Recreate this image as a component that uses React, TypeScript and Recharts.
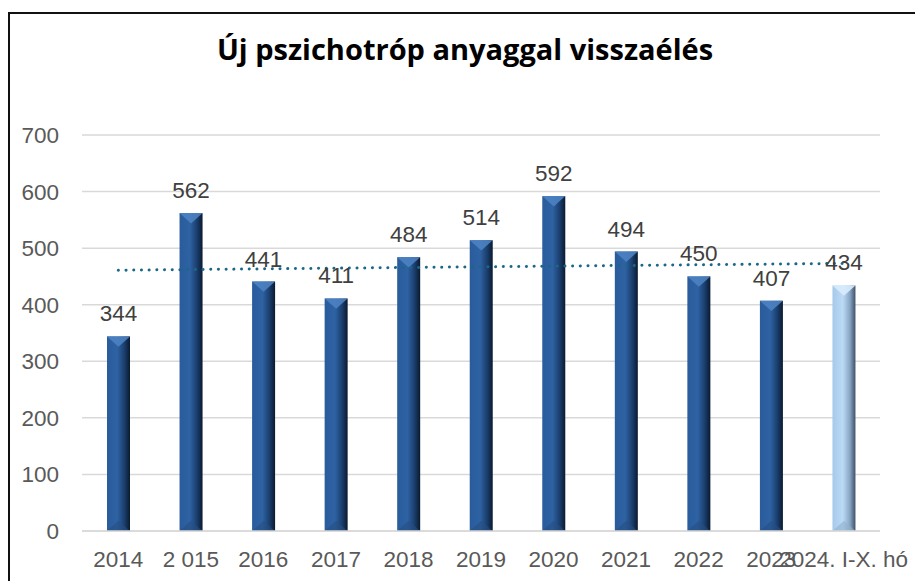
import React from "react";
import {
  ComposedChart,
  Bar,
  Line,
  XAxis,
  YAxis,
  CartesianGrid,
  LabelList,
} from "recharts";

const categories = ["2014", "2 015", "2016", "2017", "2018", "2019", "2020", "2021", "2022", "2023", "2024. I-X. hó"];
const values = [344, 562, 441, 411, 484, 514, 592, 494, 450, 407, 434];
// linear trend line: start and end values
const trendValues = [461, null, null, null, null, null, null, null, null, null, 473];
const yTicks = [0, 100, 200, 300, 400, 500, 600, 700];

const data = categories.map((c, i) => ({ name: c, value: values[i], trend: trendValues[i] }));

const FONT = "'Liberation Sans', Arial, sans-serif";

const BarShape = (props: any) => {
  const { x, y, width, height, index } = props;
  if (height <= 0) return null;
  const light = index === values.length - 1;
  const fill = light ? "url(#gradLight)" : "url(#gradDark)";
  const bevel = Math.min(width * 0.45, height / 2);
  const topFill = light ? "#D8ECFB" : "#4C82C2";
  const botFill = light ? "#8FB0CF" : "#264E82";
  return (
    <g>
      <rect x={x} y={y} width={width} height={height} fill={fill} />
      <polygon
        points={`${x},${y} ${x + width},${y} ${x + width / 2},${y + bevel}`}
        fill={topFill}
        opacity={0.9}
      />
      <polygon
        points={`${x},${y + height} ${x + width},${y + height} ${x + width / 2},${y + height - bevel}`}
        fill={botFill}
        opacity={0.6}
      />
    </g>
  );
};

export default function App() {
  return (
    <div style={{ position: "absolute", left: 0, top: 0, width: 915, height: 581, background: "#fff", overflow: "hidden" }}>
      <div
        style={{
          position: "absolute",
          left: 8,
          top: 12,
          width: 915,
          height: 581,
          borderLeft: "2px solid #111",
          borderTop: "2px solid #111",
        }}
      />
      <div
        style={{
          position: "absolute",
          left: 0,
          width: 915,
          top: 29,
          textAlign: "center",
          paddingLeft: 15,
          boxSizing: "border-box",
          fontFamily: "'Open Sans', sans-serif",
          fontWeight: 700,
          fontSize: 29,
          color: "#000",
          whiteSpace: "nowrap",
        }}
      >
        Új pszichotróp anyaggal visszaélés
      </div>
      <div style={{ position: "absolute", left: 0, top: 0 }}>
        <ComposedChart
          width={915}
          height={581}
          data={data}
          margin={{ top: 135, right: 35, bottom: 0, left: 0 }}
          barCategoryGap={0}
        >
          <defs>
            <linearGradient id="gradDark" x1="0" y1="0" x2="1" y2="0">
              <stop offset="0%" stopColor="#2A5C9C" />
              <stop offset="45%" stopColor="#2E62A3" />
              <stop offset="75%" stopColor="#1B3F6E" />
              <stop offset="100%" stopColor="#0A1A30" />
            </linearGradient>
            <linearGradient id="gradLight" x1="0" y1="0" x2="1" y2="0">
              <stop offset="0%" stopColor="#A6C9EA" />
              <stop offset="45%" stopColor="#BBDAF5" />
              <stop offset="75%" stopColor="#8AA8C6" />
              <stop offset="100%" stopColor="#3F5168" />
            </linearGradient>
          </defs>
          <CartesianGrid vertical={false} stroke="#D9D9D9" strokeWidth={1.5} />
          <XAxis
            dataKey="name"
            interval={0}
            height={50}
            tickSize={0}
            tickMargin={20}
            axisLine={{ stroke: "#D9D9D9", strokeWidth: 1.5 }}
            tick={{ fill: "#595959", fontSize: 22.5, fontFamily: FONT }}
          />
          <YAxis
            domain={[0, 700]}
            ticks={yTicks}
            width={82}
            tickSize={0}
            tickMargin={23}
            axisLine={false}
            tick={{ fill: "#595959", fontSize: 22.5, fontFamily: FONT }}
          />
          <Bar dataKey="value" barSize={23} shape={<BarShape />} isAnimationActive={false}>
            <LabelList
              dataKey="value"
              position="top"
              offset={15}
              style={{ fill: "#404040", fontSize: 22.5, fontFamily: FONT }}
            />
          </Bar>
          <Line
            dataKey="trend"
            connectNulls
            stroke="#1B6788"
            strokeWidth={3}
            strokeDasharray="0.1 7.6"
            strokeLinecap="round"
            dot={false}
            activeDot={false}
            isAnimationActive={false}
          />
        </ComposedChart>
      </div>
    </div>
  );
}
